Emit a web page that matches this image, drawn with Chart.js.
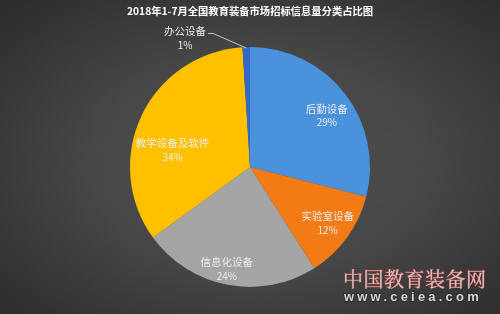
<!DOCTYPE html>
<html>
<head>
<meta charset="utf-8">
<script src="https://cdn.jsdelivr.net/npm/chart.js@4/dist/chart.umd.min.js"></script>
<style>
  html, body { margin: 0; padding: 0; }
  #wrap {
    width: 500px; height: 314px; position: relative;
    background: radial-gradient(ellipse 75% 75% at 52% 52%, #4f4f4f 0%, #474747 45%, #343434 80%, #2b2b2b 100%);
  }
</style>
</head>
<body>
<div id="wrap"><canvas id="pie"></canvas></div>
<script>
// chart data
var categories = ['后勤设备', '实验室设备', '信息化设备', '教学设备及软件', '办公设备'];
var shares = [29, 12, 24, 34, 1];
var percentLabels = ['29%', '12%', '24%', '34%', '1%'];
var titleText = '2018年1-7月全国教育装备市场招标信息量分类占比图';

var sliceColors = ['#4a92dc', '#f27b15', '#a5a5a5', '#ffc000', '#3268c8'];
// label placement: fraction of radius, angle nudge in degrees
var labelRadius = [0.77, 0.80, 0.87, 0.66, 1.2];
var labelNudge = [4, 0, 2, -13, -25];

var FONT = '"Noto Sans CJK SC", "Noto Sans", sans-serif';

var decorPlugin = {
  id: 'decor',
  afterDatasetsDraw: function(chart) {
    var ctx = chart.ctx;
    var arcs = chart.getDatasetMeta(0).data;
    ctx.save();
    ctx.textAlign = 'center';
    ctx.textBaseline = 'middle';
    arcs.forEach(function(arc, i) {
      var p = arc.getProps(['x', 'y', 'startAngle', 'endAngle', 'outerRadius'], true);
      var mid = (p.startAngle + p.endAngle) / 2;
      var a = mid + labelNudge[i] * Math.PI / 180;
      var r = p.outerRadius * labelRadius[i];
      var lx = p.x + Math.cos(a) * r;
      var ly = p.y + Math.sin(a) * r;
      ctx.font = '10.5px ' + FONT;
      ctx.fillStyle = '#ececec';
      ctx.fillText(categories[i], lx, ly - 7);
      ctx.font = '10px ' + FONT;
      ctx.fillText(percentLabels[i], lx, ly + 7);
      if (labelRadius[i] > 1) {
        // leader line for the small outside slice
        ctx.font = '10.5px ' + FONT;
        var w = ctx.measureText(categories[i]).width;
        var sx = lx + w / 2 + 2, sy = ly - 5;
        var ex = p.x + Math.cos(mid) * (p.outerRadius - 1);
        var ey = p.y + Math.sin(mid) * (p.outerRadius - 1);
        ctx.strokeStyle = '#c8c8c8';
        ctx.lineWidth = 1;
        ctx.beginPath();
        ctx.moveTo(sx, sy);
        ctx.lineTo(sx + 5, sy);
        ctx.lineTo(ex, ey);
        ctx.stroke();
      }
    });

    // title
    ctx.font = 'bold 10.3px ' + FONT;
    ctx.fillStyle = '#ffffff';
    ctx.fillText(titleText, 250, 11);

    // watermark
    ctx.font = '20px "Noto Serif CJK SC", "Noto Sans CJK SC", serif';
    ctx.textAlign = 'left';
    ctx.letterSpacing = '0.5px';
    ctx.lineWidth = 1;
    ctx.strokeStyle = '#b04848';
    ctx.strokeText('中国教育装备网', 343, 279);
    ctx.fillStyle = '#dcc4c4';
    ctx.fillText('中国教育装备网', 343, 279);
    ctx.font = 'bold 13px "Liberation Sans", Arial, sans-serif';
    ctx.letterSpacing = '3.2px';
    ctx.lineWidth = 1.5;
    ctx.strokeStyle = '#2a2a2a';
    ctx.strokeText('www.ceiea.com', 344, 297);
    ctx.fillStyle = '#d4d4d4';
    ctx.fillText('www.ceiea.com', 344, 297);
    ctx.restore();
  }
};

new Chart(document.getElementById('pie').getContext('2d'), {
  type: 'pie',
  data: {
    labels: categories,
    datasets: [{
      data: shares,
      backgroundColor: sliceColors,
      borderWidth: 0
    }]
  },
  options: {
    responsive: true,
    maintainAspectRatio: false,
    animation: false,
    layout: { padding: { top: 47, bottom: 27, left: 0, right: 0 } },
    plugins: {
      legend: { display: false },
      tooltip: { enabled: false },
      title: { display: false }
    }
  },
  plugins: [decorPlugin]
});
</script>
</body>
</html>
